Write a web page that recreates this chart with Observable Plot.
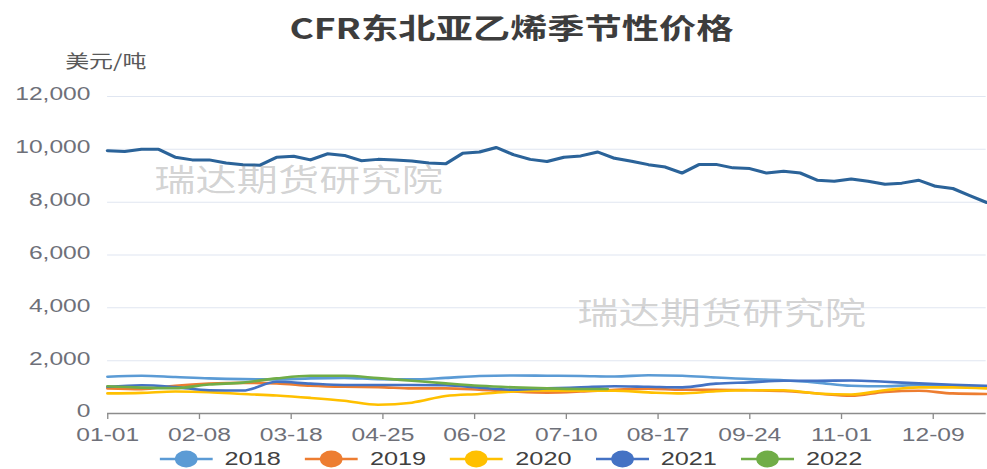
<!DOCTYPE html>
<html>
<head>
<meta charset="utf-8">
<script src="https://cdn.jsdelivr.net/npm/d3@7"></script>
<script src="https://cdn.jsdelivr.net/npm/@observablehq/plot@0.6"></script>
<style>
  html, body { margin: 0; padding: 0; background: #fff; overflow: hidden; }
  #wrap { position: absolute; left: 0; top: 0; width: 742px; height: 469px;
          transform: scaleX(1.3302); transform-origin: 0 0;
          font-family: "Liberation Sans", "Noto Sans CJK SC", sans-serif; }
  #title { position: absolute; top: 10px; left: 0; width: 742px; box-sizing: border-box; padding-left: 27px;
           text-align: center; font: 700 28px/34px "Noto Sans CJK SC", sans-serif; color: #3d3d3d; }
  #unit { position: absolute; top: 50px; left: 49px; font: 18px/20px "Noto Sans CJK SC", sans-serif; color: #595959; }
  #chart { position: absolute; top: 48px; left: 0; }
  .wm { position: absolute; font: 31px/31px "Noto Sans CJK SC", sans-serif; color: rgba(120,120,120,0.32); white-space: nowrap; }
  #legend { position: absolute; top: 448px; left: 0; width: 742px; height: 22px; box-sizing: border-box; padding-left: 26px;
            display: flex; justify-content: center; align-items: center; }
  .item { display: flex; align-items: center; margin: 0 9px; }
  .item span { margin-left: 9px; font: 19px/22px "Liberation Sans", sans-serif; color: #404040; }
</style>
</head>
<body>
<div id="wrap">
  <div id="title"></div>
  <div id="unit"></div>
  <div id="chart"></div>
  <div class="wm" style="left:116px; top:162px;"></div>
  <div class="wm" style="left:434px; top:295px;"></div>
  <div id="legend"></div>
</div>
<script>
const titleText = "CFR东北亚乙烯季节性价格";
const unitText = "美元/吨";
const watermarkText = "瑞达期货研究院";

// x positions: day of year (0 = 01-01)
const xTickDays = [0, 38, 76, 114, 152, 190, 228, 266, 304, 342];
const xTickLabels = ["01-01", "02-08", "03-18", "04-25", "06-02", "07-10", "08-17", "09-24", "11-01", "12-09"];
const yTicks = [0, 2000, 4000, 6000, 8000, 10000, 12000];

// weekly days for the current-year (unlabelled) series
const weeklyDays = [0,7,14,21,28,35,42,49,56,63,70,77,84,91,98,105,112,119,126,133,140,147,154,161,168,175,182,189,196,203,210,217,224,231,238,245,252,259,266,273,280,287,294,301,308,315,322,329,336,343,350,357,364];
const currentValues = [9950,9920,10000,10000,9700,9600,9600,9480,9420,9400,
  9700,9740,9600,9830,9770,9570,9620,9600,9560,9480,
  9450,9850,9900,10070,9800,9620,9540,9700,9750,9900,
  9660,9550,9420,9330,9100,9430,9430,9300,9270,9100,
  9170,9100,8830,8790,8880,8790,8680,8720,8830,8600,
  8520,8250,7990];

// biweekly days for the historic years
const biweeklyDays = [0,14,28,42,56,70,84,98,112,126,140,154,168,182,196,210,224,238,252,266,280,294,308,322,336,350,364];
const days2022 = [0,14,28,42,56,70,84,98,112,126,140,154,168,182,196,207];

const values2018 = [1390,1430,1380,1330,1300,1290,1330,1350,1300,1290,1350,1420,1440,1430,1420,1400,1450,1430,1360,1300,1260,1170,1050,1030,1080,1030,1020];
const values2019 = [950,920,1050,1130,1160,1140,1050,1010,1000,950,950,900,830,790,830,900,940,900,900,880,850,760,670,820,860,760,740];
const values2020 = [760,780,830,810,740,680,590,480,330,410,660,740,830,870,860,860,800,760,840,880,880,760,720,880,990,990,950];
const values2021 = [1010,1070,1000,880,870,1200,1130,1080,1080,1080,1070,980,900,950,990,1030,1010,990,1130,1180,1240,1240,1250,1200,1140,1090,1050];
const values2022 = [1030,980,960,1100,1170,1330,1430,1430,1340,1240,1140,1050,990,950,930,930];

const seriesNames = ["2018", "2019", "2020", "2021", "2022"];
const seriesColors = ["#5b9bd5", "#ed7d31", "#ffc000", "#4472c4", "#70ad47"];
const currentName = "2023";
const currentColor = "#2b6399";

const histDays = [biweeklyDays, biweeklyDays, biweeklyDays, biweeklyDays, days2022];
const histValues = [values2018, values2019, values2020, values2021, values2022];

const rows = [];
histValues.forEach((vals, k) => vals.forEach((v, i) => rows.push({series: seriesNames[k], day: histDays[k][i], value: v})));
const currentRows = currentValues.map((v, i) => ({series: currentName, day: weeklyDays[i], value: v}));

const labelMap = new Map(xTickDays.map((d, i) => [d, xTickLabels[i]]));

const chart = Plot.plot({
  width: 742,
  height: 398,
  marginTop: 48,
  marginBottom: 33,
  marginLeft: 80.5,
  marginRight: 1,
  style: {fontFamily: "Liberation Sans, sans-serif", background: "transparent", overflow: "visible"},
  x: {domain: [0, 364]},
  y: {domain: [0, 12000]},
  color: {domain: seriesNames, range: seriesColors},
  marks: [
    Plot.gridY(yTicks.filter(v => v > 0), {stroke: "#e0e6f1", strokeOpacity: 1, strokeWidth: 1}),
    Plot.axisY(yTicks, {tickSize: 0, tickPadding: 13, fontSize: 18.5, fill: "#6e7079", dy: -2, label: null, tickFormat: d3.format(",")}),
    Plot.axisX(xTickDays, {tickSize: 6, tickPadding: 8, fontSize: 18.5, fill: "#6e7079", stroke: "#8c8c8c", label: null, tickFormat: d => labelMap.get(d)}),
    Plot.ruleY([0], {stroke: "#8c8c8c", strokeWidth: 1.3}),
    Plot.lineY(rows, {x: "day", y: "value", z: "series", stroke: "series", strokeWidth: 2.6, curve: "monotone-x"}),
    Plot.lineY(currentRows, {x: "day", y: "value", stroke: currentColor, strokeWidth: 3, curve: "linear"})
  ]
});
document.getElementById("chart").appendChild(chart);

document.getElementById("title").textContent = titleText;
document.getElementById("unit").textContent = unitText;
document.querySelectorAll(".wm").forEach(el => el.textContent = watermarkText);

const legend = document.getElementById("legend");
seriesNames.forEach((name, i) => {
  const item = document.createElement("div");
  item.className = "item";
  item.innerHTML = `<svg width="40" height="22"><line x1="0" x2="40" y1="11" y2="11" stroke="${seriesColors[i]}" stroke-width="2.6"/><circle cx="20" cy="11" r="8.5" fill="${seriesColors[i]}"/></svg><span>${name}</span>`;
  legend.appendChild(item);
});
</script>
</body>
</html>
